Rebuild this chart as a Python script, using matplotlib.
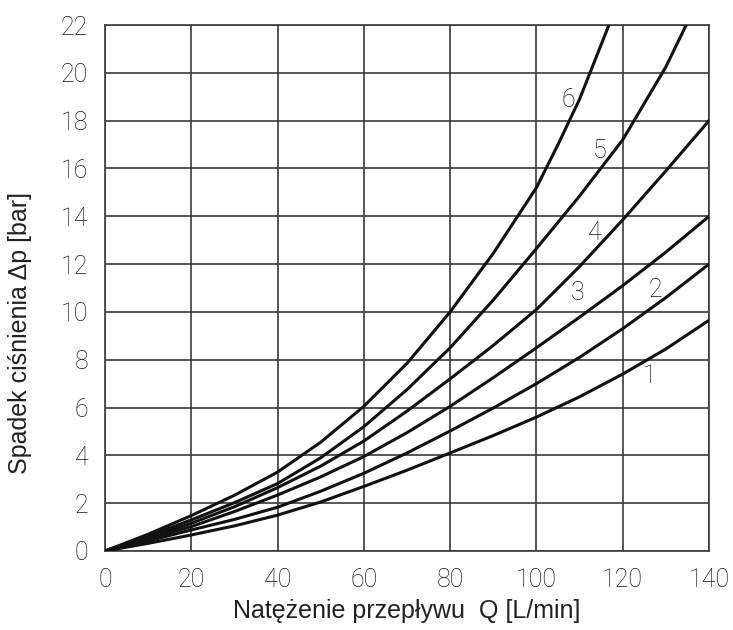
import matplotlib
matplotlib.use("Agg")
import matplotlib.pyplot as plt

# flow rate Q [L/min] and pressure drop [bar]
q = [0, 10, 20, 30, 40, 50, 60, 70, 80, 90, 100, 110, 120, 130, 140]
dp1 = [0, 0.32, 0.67, 1.05, 1.5, 2.05, 2.7, 3.38, 4.1, 4.83, 5.6, 6.45, 7.4, 8.45, 9.65]
dp2 = [0, 0.42, 0.88, 1.32, 1.83, 2.5, 3.25, 4.1, 5.02, 5.98, 7.0, 8.1, 9.3, 10.6, 12.0]
dp3 = [0, 0.5, 1.02, 1.65, 2.34, 3.1, 3.95, 4.95, 6.05, 7.25, 8.5, 9.78, 11.1, 12.5, 14.0]
dp4 = [0, 0.55, 1.16, 1.85, 2.65, 3.55, 4.6, 5.85, 7.2, 8.6, 10.1, 11.9, 13.85, 15.9, 18.0]
q5 = [0, 10, 20, 30, 40, 50, 60, 70, 80, 90, 100, 110, 120, 130, 134.7]
dp5 = [0, 0.62, 1.3, 2.02, 2.82, 3.9, 5.2, 6.75, 8.5, 10.5, 12.65, 14.85, 17.2, 20.25, 22.0]
q6 = [0, 10, 20, 30, 40, 50, 60, 70, 80, 90, 100, 105, 110, 116.8]
dp6 = [0, 0.7, 1.48, 2.33, 3.3, 4.55, 6.05, 7.85, 10.0, 12.45, 15.2, 17.0, 18.9, 22.0]

curves = [(q, dp1), (q, dp2), (q, dp3), (q, dp4), (q5, dp5), (q6, dp6)]
labels = ["1", "2", "3", "4", "5", "6"]
label_x = [126.3, 127.5, 109.6, 113.6, 114.6, 107.4]
label_y = [7.3, 10.9, 10.8, 13.3, 16.75, 18.86]

x_ticks = [0, 20, 40, 60, 80, 100, 120, 140]
y_ticks = [0, 2, 4, 6, 8, 10, 12, 14, 16, 18, 20, 22]

tick_font = dict(family="Roboto", weight="light")

fig = plt.figure(figsize=(7.33, 6.3), dpi=100)
ax = fig.add_axes([0.1432, 0.1254, 0.8241, 0.8349])

for (xs, ys) in curves:
    ax.plot(xs, ys, color="#111111", lw=2.2, zorder=3)

for t, lx, ly in zip(labels, label_x, label_y):
    ax.text(lx, ly, t, ha="center", va="center", fontsize=18, color="#151515",
            zorder=4, **tick_font)

ax.set_xlim(0, 140)
ax.set_ylim(0, 22)
ax.set_xticks(x_ticks)
ax.set_yticks(y_ticks)
ax.grid(True, color="#3a3a3a", lw=1.2)
ax.tick_params(length=0, pad=12, labelsize=18, labelcolor="#151515")
for lab in ax.get_xticklabels() + ax.get_yticklabels():
    lab.set_family("Roboto")
    lab.set_fontweight("light")
for s in ax.spines.values():
    s.set_color("#3a3a3a")
    s.set_linewidth(1.2)

ax.set_xlabel("Natężenie przepływu  Q [L/min]", fontsize=18,
              family="Liberation Sans", color="#222222", va="center")
ax.set_ylabel("Spadek ciśnienia \u0394p [bar]", fontsize=18,
              family="Liberation Sans", color="#222222", va="center")
ax.xaxis.set_label_coords(0.5, -0.114)
ax.yaxis.set_label_coords(-0.1407, 0.4144)

fig.savefig("out.png", dpi=100)
